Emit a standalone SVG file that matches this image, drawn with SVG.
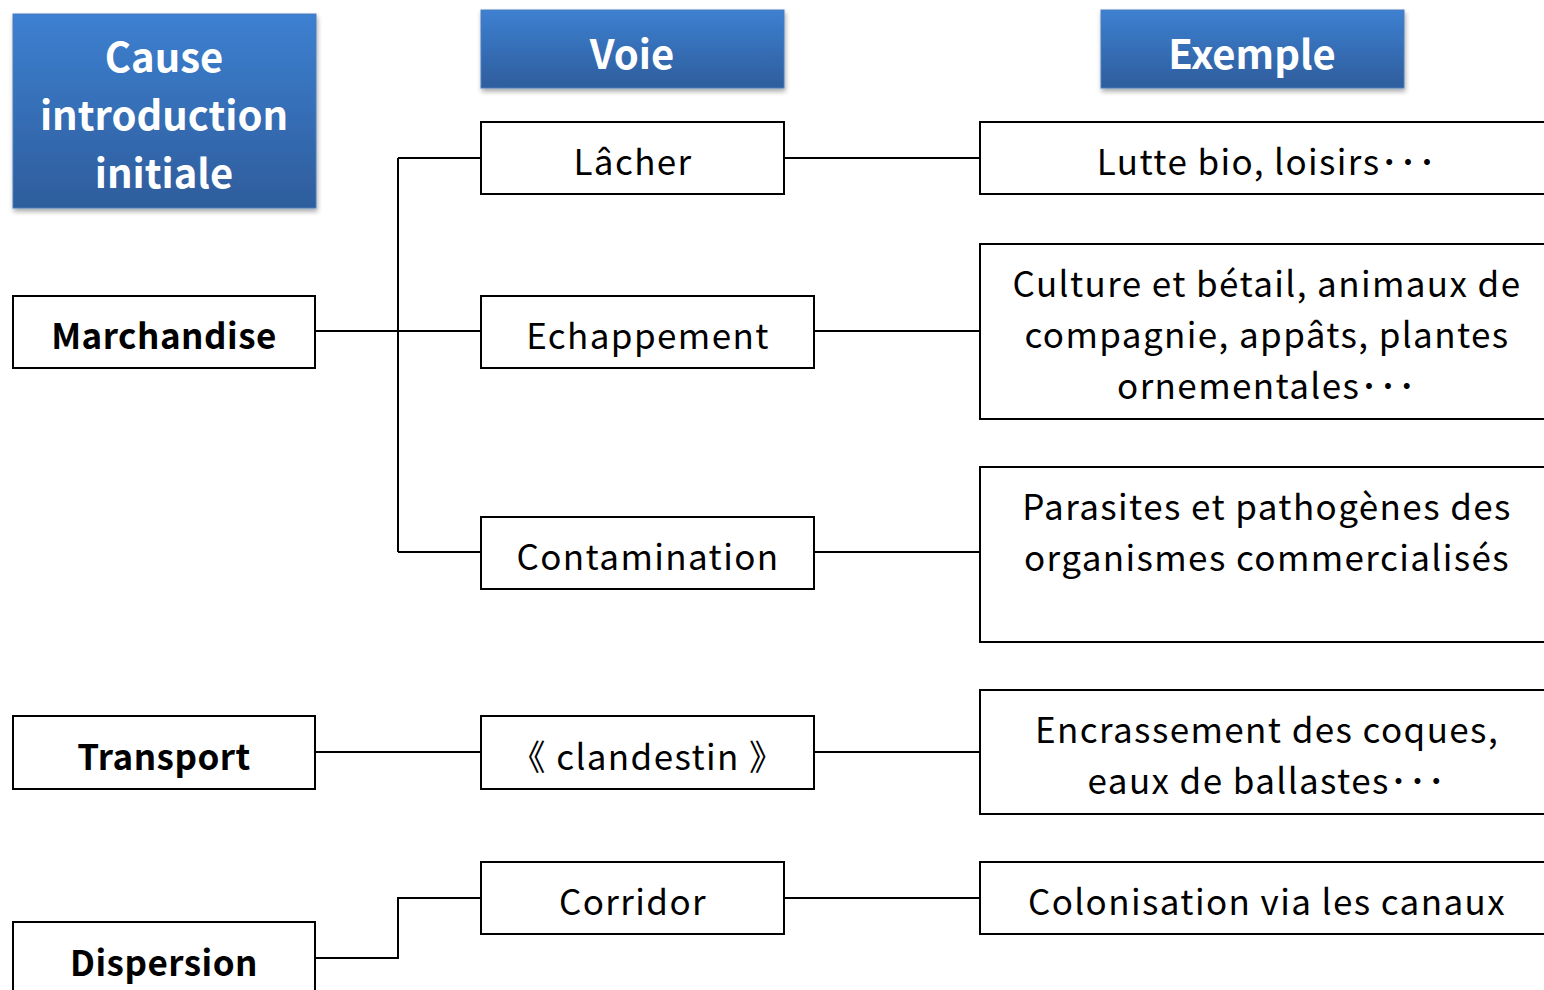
<svg xmlns="http://www.w3.org/2000/svg" width="1544" height="990" viewBox="0 0 1544 990">
<defs>
<linearGradient id="hg" x1="0" y1="0" x2="0" y2="1">
<stop offset="0" stop-color="#3d80d1"/>
<stop offset="1" stop-color="#2e5d9c"/>
</linearGradient>
<filter id="sh" x="-10%" y="-10%" width="125%" height="130%">
<feGaussianBlur in="SourceAlpha" stdDeviation="2.5"/>
<feOffset dx="1" dy="3"/>
<feComponentTransfer><feFuncA type="linear" slope="0.35"/></feComponentTransfer>
<feMerge><feMergeNode/><feMergeNode in="SourceGraphic"/></feMerge>
</filter>
</defs>
<style>
.hdr{fill:url(#hg);stroke:#4a7cc0;stroke-width:1;filter:url(#sh)}
.ht{fill:#ffffff;font-family:"Noto Sans CJK JP","Liberation Sans",sans-serif;font-size:40px;font-weight:bold;text-anchor:middle}
.box{fill:#ffffff;stroke:#000;stroke-width:2}
.t{fill:#000;font-family:"Noto Sans CJK JP","Liberation Sans",sans-serif;font-size:35px;letter-spacing:1.4px;text-anchor:middle}
.b{font-weight:bold;letter-spacing:0.5px}
.c{fill:none;stroke:#000;stroke-width:2}
</style>
<rect width="1544" height="990" fill="#ffffff"/>
<g id="connectors">
<path class="c" d="M315,331 H398 M398,158 V552 M398,158 H481 M398,331 H481 M398,552 H481"/>
<path class="c" d="M784,158 H980"/>
<path class="c" d="M814,331 H980"/>
<path class="c" d="M814,552 H980"/>
<path class="c" d="M315,752 H481"/>
<path class="c" d="M814,752 H980"/>
<path class="c" d="M315,958 H398 V898 H481"/>
<path class="c" d="M784,898 H980"/>
</g>
<g id="h-cause"><rect class="hdr" x="13" y="14" width="303" height="194"/>
<text class="ht"><tspan x="164" y="72">Cause</tspan><tspan x="164" y="130">introduction</tspan><tspan x="164" y="188">initiale</tspan></text></g>
<g id="h-voie"><rect class="hdr" x="481" y="10" width="303" height="78"/><text class="ht" x="632" y="69">Voie</text></g>
<g id="h-exemple"><rect class="hdr" x="1101" y="10" width="303" height="78"/><text class="ht" x="1252" y="69">Exemple</text></g>
<g id="n-marchandise"><rect class="box" x="13" y="296" width="302" height="72"/><text class="t b" x="164" y="349">Marchandise</text></g>
<g id="n-transport"><rect class="box" x="13" y="716" width="302" height="73"/><text class="t b" x="164" y="770">Transport</text></g>
<g id="n-dispersion"><rect class="box" x="13" y="922" width="302" height="80"/><text class="t b" x="164" y="976">Dispersion</text></g>
<g id="n-lacher"><rect class="box" x="481" y="122" width="303" height="72"/><text class="t" x="633" y="175">Lâcher</text></g>
<g id="n-echappement"><rect class="box" x="481" y="296" width="333" height="72"/><text class="t" x="648" y="349">Echappement</text></g>
<g id="n-contamination"><rect class="box" x="481" y="517" width="333" height="72"/><text class="t" x="648" y="570">Contamination</text></g>
<g id="n-clandestin"><rect class="box" x="481" y="716" width="333" height="73"/><text class="t" x="648" y="770">《 clandestin 》</text></g>
<g id="n-corridor"><rect class="box" x="481" y="862" width="303" height="72"/><text class="t" x="633" y="915">Corridor</text></g>
<g id="n-lutte"><rect class="box" x="980" y="122" width="580" height="72"/><text class="t" x="1267" y="175">Lutte bio, loisirs･･･</text></g>
<g id="n-culture"><rect class="box" x="980" y="244" width="580" height="175"/>
<text class="t"><tspan x="1267" y="297">Culture et bétail, animaux de</tspan><tspan x="1267" y="348">compagnie, appâts, plantes</tspan><tspan x="1267" y="399">ornementales･･･</tspan></text></g>
<g id="n-parasites"><rect class="box" x="980" y="467" width="580" height="175"/>
<text class="t"><tspan x="1267" y="520">Parasites et pathogènes des</tspan><tspan x="1267" y="571">organismes commercialisés</tspan></text></g>
<g id="n-encrassement"><rect class="box" x="980" y="690" width="580" height="124"/>
<text class="t"><tspan x="1267" y="743">Encrassement des coques,</tspan><tspan x="1267" y="794">eaux de ballastes･･･</tspan></text></g>
<g id="n-colonisation"><rect class="box" x="980" y="862" width="580" height="72"/><text class="t" x="1267" y="915">Colonisation via les canaux</text></g>
</svg>
